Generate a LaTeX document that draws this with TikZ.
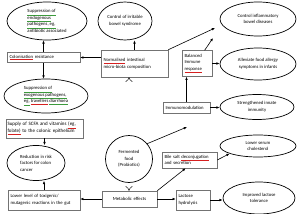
\documentclass[tikz,border=0pt]{standalone}
\usepackage{fontspec}
\setmainfont{Carlito}
\usetikzlibrary{arrows.meta,shapes.geometric}
\definecolor{spellred}{HTML}{D62020}
\definecolor{gramgreen}{HTML}{3C9A3C}
\newcommand{\dfont}{\fontsize{4.7}{6.6}\selectfont}
\newcommand{\fel}[1]{{\color{spellred}\underline{\color{black}#1}}}
\newcommand{\gra}[1]{{\color{gramgreen}\underline{\color{black}#1}}}
\tikzset{
  >={Latex[length=3.2pt,width=2.6pt]},
  % ovaler och rutor
  ov/.style={ellipse,draw,line width=0.7pt,inner sep=0pt,align=center,font=\dfont},
  ovl/.style={ov,align=left},
  bx/.style={draw=black!55,line width=0.5pt,inner sep=2.5pt,align=left,font=\dfont},
  fc/.style={circle,draw,line width=0.7pt,inner sep=0pt,align=center,font=\dfont},
  % pilar
  ar/.style={->,line width=0.6pt},
  dar/.style={-{Implies},double,double distance=2pt,line width=0.45pt},
}
\begin{document}
\begin{tikzpicture}[x=1pt,y=-1pt]
\useasboundingbox (0,0) rectangle (300,214);
\fill[white] (0,0) rectangle (300,214);
  % vänster kolumn
  \node[ovl,minimum width=80pt,minimum height=38pt] (endo) at (47,21)
    {\gra{Suppression of}\\\gra{endogenous}\\\gra{pathogens, eg,}\\antibiotic associated};
  \node[bx,text width=68pt,minimum height=9pt] (colres) at (43.5,57.5) {\fel{Colonisation} resistance};
  \node[ovl,minimum width=84pt,minimum height=34pt] (exo) at (46,96)
    {\gra{Suppression of}\\\gra{exogenous pathogens,}\\\gra{eg,} \fel{travellers} \gra{diarrhoea}};
  \node[bx,text width=74pt,inner xsep=1.5pt,minimum height=19pt,font=\fontsize{5}{7}\selectfont] (scfa) at (44.5,128.5)
    {Supply of SCFA and vitamins \fel{(eg,}\\\fel{folate)} to the colonic epithelium};
  \node[ovl,minimum width=58pt,minimum height=35pt] (colon) at (36,163) {Reduction in risk\\factors for colon\\cancer};
  \node[bx,text width=67pt,minimum height=20pt] (toxi) at (44,200) {Lower level of toxigenic/\\mutagenic reactions in the gut};
  % mitten
  \node[ov,minimum width=54pt,minimum height=38pt] (ibs) at (125,21) {Control of irritable\\bowel syndrome};
  \node[bx,text width=62pt,minimum height=27pt] (norm) at (134.5,63.5) {\fel{Normalised} intestinal\\micro-biota composition};
  \node[fc,minimum size=47pt] (ferm) at (129,159) {Fermented\\food\\(Probiotics)};
  \node[bx,text width=50pt,align=center,minimum height=16pt] (metab) at (129.5,199) {Metabolic effects};
  \node[bx,text width=25pt,minimum height=26pt] (bal) at (197,63.5) {Balanced\\Immune\\\fel{response}};
  \node[bx,text width=42pt,minimum height=11pt] (immuno) at (186.5,107.5) {Immunomodulation};
  \node[bx,text width=50pt,minimum height=16pt] (bile) at (189.5,160) {Bile salt \fel{deconjugation}\\and secretion};
  \node[bx,text width=29pt,minimum height=20pt] (lact) at (193,200) {Lactose\\hydrolysis};
  % höger kolumn
  \node[ov,minimum width=76pt,minimum height=34pt] (ibd) at (258,19) {Control inflammatory\\bowel diseases};
  \node[ov,minimum width=76pt,minimum height=32pt] (allergy) at (258,64) {Alleviate food allergy\\symptoms in infants};
  \node[ov,minimum width=74pt,minimum height=25pt] (innate) at (257,107) {Strengthened innate\\immunity};
  \node[ov,minimum width=76pt,minimum height=22pt] (chol) at (258,146) {Lower serum\\cholesterol};
  \node[ov,minimum width=72pt,minimum height=32pt] (toler) at (259,198) {Improved lactose\\tolerance};
  \coordinate (ibdA) at (215,28);
  \coordinate (ibdB) at (213,38);
  \coordinate (immIn) at (187,127);
  % pilar
  \draw[ar] (colres.north) -- (colres.north |- endo.south);
  \draw[ar] (colres.south) -- (colres.south |- exo.north);
  \draw[ar] (scfa.south) -- (scfa.south |- colon.north);
  \draw[ar] (toxi.north) -- (toxi.north |- colon.south);
  \draw[ar] (norm.west |- colres.east) -- (colres.east);
  \draw[ar] (norm.north) -- (norm.north |- ibs.south);
  \draw[ar] (norm.north east) -- (ibdA);
  \draw[ar] (bal.60) -- (ibdB);
  \draw[ar] (bal.east) -- (bal.east -| allergy.west);
  \draw[ar] (immuno.north) -- (immuno.north |- bal.south);
  \draw[ar] (immuno.east) -- (immuno.east -| innate.west);
  \draw[ar] (ferm.40) -- (immIn);
  \draw[dar] (ferm.north) -- (ferm.north |- norm.south);
  \draw[dar] (ferm.south) -- (ferm.south |- metab.north);
  \draw[ar] (metab.west) -- (metab.west -| toxi.east);
  \draw[ar] (metab.east) -- (metab.east -| lact.west);
  \draw[ar] (metab.north east) -- (bile.245);
  \draw[ar] (bile.east) -- (chol.195);
  \draw[ar] (lact.east) -- (lact.east -| toler.west);
\end{tikzpicture}
\end{document}
